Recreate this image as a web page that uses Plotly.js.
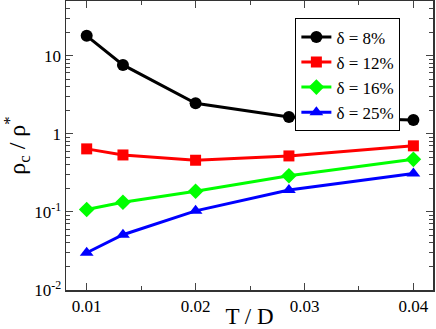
<!DOCTYPE html>
<html>
<head>
<meta charset="utf-8">
<script src="https://cdn.plot.ly/plotly-3.0.1.min.js"></script>
<style>
  html, body { margin: 0; padding: 0; background: #fff; }
  #chart { width: 436px; height: 329px; }
</style>
</head>
<body>
<div id="chart"></div>
<script>
// T/D values shared by all series
const tOverD = [0.01, 0.01333, 0.02, 0.02857, 0.04];

// rho_c / rho* for each delta
const delta8 = [17.9, 7.6, 2.45, 1.64, 1.50];
const delta12 = [0.64, 0.535, 0.458, 0.52, 0.70];
const delta16 = [0.107, 0.133, 0.184, 0.29, 0.47];
const delta25 = [0.030, 0.051, 0.103, 0.19, 0.31];

const seriesNames = ['δ = 8%', 'δ = 12%', 'δ = 16%', 'δ = 25%'];
const yTickVals = [0.01, 0.1, 1, 10];
const yTickText = ['10<sup>-2</sup>', '10<sup>-1</sup>', '1', '10'];
const xTickVals = [0.01, 0.02, 0.03, 0.04];
const xTickText = ['0.01', '0.02', '0.03', '0.04'];

const styles = [
    { color: '#000000', symbol: 'circle', size: 12 },
    { color: '#ff0000', symbol: 'square', size: 11 },
    { color: '#00ff00', symbol: 'diamond', size: 12 },
    { color: '#0000ff', symbol: 'triangle-up', size: 12 }
];

const traces = [delta8, delta12, delta16, delta25].map((vals, i) => ({
    x: tOverD,
    y: vals,
    type: 'scatter',
    mode: 'lines+markers',
    name: seriesNames[i],
    line: { color: styles[i].color, width: 3 },
    marker: { color: styles[i].color, symbol: styles[i].symbol, size: styles[i].size }
}));

const font = 'Liberation Serif';

const layout = {
    width: 436,
    height: 329,
    margin: { l: 66, r: 3, t: 1, b: 39 },
    paper_bgcolor: '#fff',
    plot_bgcolor: '#fff',
    font: { family: font, color: '#000', size: 17 },
    showlegend: true,
    legend: {
        x: 0.625, y: 0.94, xanchor: 'left', yanchor: 'top',
        bgcolor: '#fff', bordercolor: '#000', borderwidth: 1,
        font: { family: font, size: 17, color: '#000' },
        tracegroupgap: 0, itemwidth: 30
    },
    xaxis: {
        range: [0.0081, 0.0418],
        tickvals: xTickVals,
        ticktext: xTickText,
        ticks: 'inside', ticklen: 7, tickcolor: '#444',
        minor: { dtick: 0.005, tick0: 0, ticks: 'inside', ticklen: 4, tickcolor: '#444' },
        showline: true, linecolor: '#333', linewidth: 1.5, mirror: 'allticks',
        showgrid: false, zeroline: false,
        tickfont: { family: font, size: 17, color: '#000' },
        title: { text: 'T / D', font: { family: font, size: 23 }, standoff: 2 }
    },
    yaxis: {
        type: 'log',
        range: [-2, Math.log10(50)],
        tickvals: yTickVals,
        ticktext: yTickText,
        ticks: 'inside', ticklen: 7, tickcolor: '#444',
        minor: { dtick: 'D1', ticks: 'inside', ticklen: 4, tickcolor: '#444', showgrid: false },
        showline: true, linecolor: '#333', linewidth: 1.5, mirror: 'allticks',
        showgrid: false, zeroline: false,
        tickfont: { family: font, size: 17, color: '#000' },
        title: { text: 'ρ<sub>c</sub> / ρ<sup>*</sup>', font: { family: font, size: 24 }, standoff: 6 }
    }
};

Plotly.newPlot('chart', traces, layout, { displayModeBar: false, staticPlot: true }).then((gd) => {
    // touch every text so the browser repaints it with the serif face
    gd.querySelectorAll('text').forEach(el => {
        const ff = el.style.fontFamily;
        el.style.fontFamily = ff;
        el.getAttribute('style');
    });
    gd.classList.add('drawn');
});
</script>
</body>
</html>
